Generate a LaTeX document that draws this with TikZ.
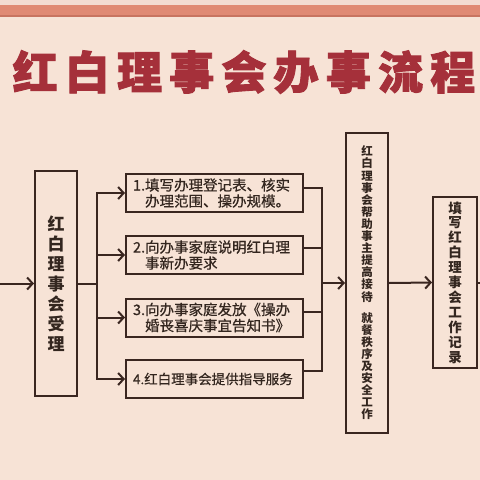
\documentclass[tikz,border=0pt]{standalone}
\usepackage{fontspec}
\setmainfont{Noto Sans CJK SC}
\usetikzlibrary{arrows.meta}
\definecolor{bg}{HTML}{F7E3D6}
\definecolor{bar}{HTML}{E08A74}
\definecolor{barlt}{HTML}{F3DCD2}
\definecolor{bardk}{HTML}{C87460}
\definecolor{ttl}{HTML}{A5303A}
\definecolor{ink}{HTML}{3A2620}
\definecolor{txt}{HTML}{33261F}
\begin{document}
\begin{tikzpicture}[x=1pt,y=-1pt,
  box/.style={draw=ink, line width=2pt, inner sep=0pt, text=txt},
  stepbox/.style={box, minimum width=177pt, minimum height=38pt, text width=163pt,
    align=left, font=\fontsize{14.5}{16}\selectfont\addfontfeature{FakeBold=0.6}},
  conn/.style={draw=ink, line width=2pt, line cap=rect},
  arr/.style={draw=ink, line width=2pt, -{Straight Barb[length=5.5pt,width=12pt]}}]
\useasboundingbox (0,0) rectangle (480,480);
\fill[bg] (0,0) rectangle (480,480);
\fill[barlt] (0,0) rectangle (480,5);
\fill[bar] (0,5) rectangle (480,16);
\fill[bardk] (0,15) rectangle (480,16.5);
\node[font=\fontsize{45}{45}\selectfont\bfseries\addfontfeature{LetterSpace=16,FakeBold=2}, text=ttl] (title) at (244,72) {红白理事会办事流程};
% boxes
\node[box, minimum width=42pt, minimum height=225pt, align=center,
  font=\fontsize{17}{20}\selectfont\bfseries] (accept) at (56,283.5)
  {红\\白\\理\\事\\会\\受\\理};
\node[stepbox] (s1) at (214.5,193) {1.填写办理登记表、核实\\\phantom{1.}办理范围、操办规模。};
\node[stepbox] (s2) at (214.5,255) {2.向办事家庭说明红白理\\\phantom{2.}事新办要求};
\node[stepbox] (s3) at (214.5,317.5) {3.向办事家庭发放《操办\\\phantom{3.}婚丧喜庆事宜告知书》};
\node[stepbox, font=\fontsize{13.5}{16}\selectfont\addfontfeature{FakeBold=0.6}] (s4) at (214.5,379) {4.红白理事会提供指导服务};
\node[box, minimum width=42pt, minimum height=300pt, align=center,
  font=\fontsize{11.5}{12.1}\selectfont\bfseries] (help) at (367,283)
  {红\\白\\理\\事\\会\\帮\\助\\事\\主\\提\\高\\接\\待\\[9pt]就\\餐\\秩\\序\\及\\安\\全\\工\\作};
\node[box, minimum width=44pt, minimum height=171pt, align=center,
  font=\fontsize{13.5}{14.9}\selectfont\bfseries] (rec) at (455,282.5)
  {填\\写\\红\\白\\理\\事\\会\\工\\作\\记\\录};
% connectors
\coordinate (in) at (0,283.5);
\coordinate (split) at (97,283.5);
\coordinate (merge) at (322,283);
\coordinate (out) at (480,282.5);
\draw[arr] (in) -- (accept.west);
\draw[conn] (accept.east) -- (split);
\draw[conn] (s1.west -| split) -- (s4.west -| split);
\foreach \s in {s1,s2,s3,s4} \draw[arr] (\s.west -| split) -- (\s.west);
\coordinate (r1) at ([yshift=5pt]s1.east);
\coordinate (r2) at ([yshift=7pt]s2.east);
\coordinate (r3) at ([yshift=6pt]s3.east);
\coordinate (r4) at ([yshift=8pt]s4.east);
\draw[conn] (r1) -- (r1 -| merge) -- (r4 -| merge) -- (r4);
\draw[conn] (r2) -- (r2 -| merge);
\draw[conn] (r3) -- (r3 -| merge);
\draw[arr] (help.west -| merge) -- (help.west);
\draw[arr] (help.east) -- (rec.west);
\draw[conn] (rec.east) -- (out);
\end{tikzpicture}
\end{document}
